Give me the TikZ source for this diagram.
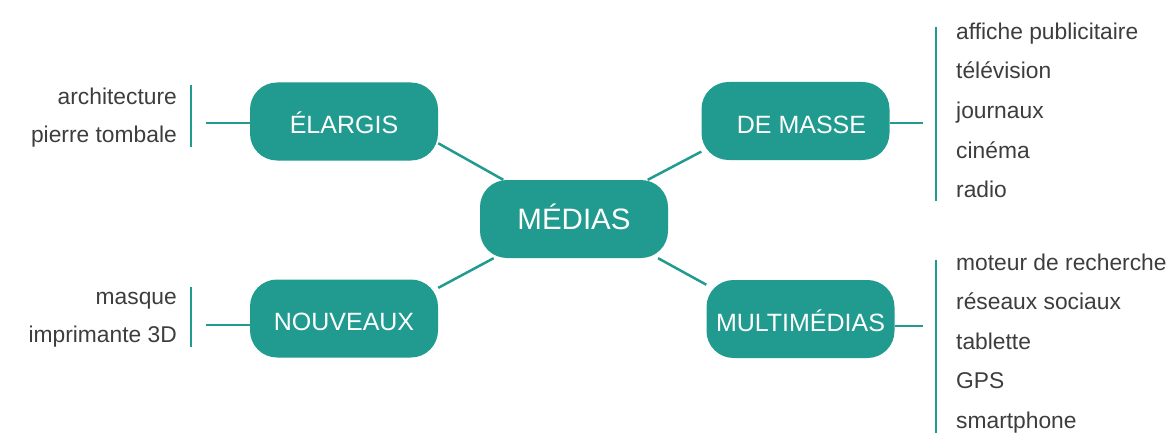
\documentclass[tikz,border=0pt]{standalone}
\usepackage{fontspec}
\setmainfont{Liberation Sans}
\usetikzlibrary{calc,backgrounds}
\definecolor{mediateal}{HTML}{219B8F}
\definecolor{leafgray}{HTML}{3D3D3D}
\tikzset{
  branch/.style={fill=mediateal, text=white, rounded corners=27pt,
    minimum width=188pt, minimum height=78pt, inner sep=0pt,
    text height=24pt, text depth=0pt,
    font={\fontsize{25pt}{30pt}\selectfont}},
  hub/.style={branch, text height=21pt,
    font={\fontsize{29.5pt}{35pt}\selectfont}},
  leaf/.style={text=leafgray, inner sep=0pt,
    font={\fontsize{22.8pt}{27pt}\selectfont}},
  link/.style={draw=mediateal, line width=2.5pt}}

\begin{document}
\begin{tikzpicture}[x=1pt,y=-1pt]
\useasboundingbox (0,0) rectangle (1172,433);
\node[hub] (medias) at (574,219) {MÉDIAS};
\node[branch] (elargis) at (344,121.5) {ÉLARGIS};
\node[branch] (masse) at (795.5,121) {\hspace*{12pt}DE MASSE};
\node[branch] (nouveaux) at (344,318.5) {NOUVEAUX};
\node[branch] (multi) at (800.5,319) {MULTIMÉDIAS};
\begin{scope}[on background layer]
\draw[link] (medias.151) -- (elargis.-13);
\draw[link] (medias.28) -- (masse.-162);
\draw[link] (medias.-154) -- (nouveaux.18);
\draw[link] (medias.-25) -- (multi.160);
\end{scope}
\foreach \txt [count=\i] in {architecture, pierre tombale}
  \node[leaf, anchor=base east] (elargis\i) at (177,{66+38.3*\i}) {\txt};
\foreach \txt [count=\i] in {masque, imprimante 3D}
  \node[leaf, anchor=base east] (nouveaux\i) at (177,{266+38.3*\i}) {\txt};
\foreach \txt [count=\i] in {affiche publicitaire, télévision, journaux, cinéma, radio}
  \node[leaf, anchor=base west] (masse\i) at (956,{39.5*\i}) {\txt};
\foreach \txt [count=\i] in {moteur de recherche, réseaux sociaux, tablette, GPS, smartphone}
  \node[leaf, anchor=base west] (multi\i) at (956,{230.5+39.5*\i}) {\txt};
\coordinate (elargisend) at (206,123);
\coordinate (nouveauxend) at (206,325);
\coordinate (masseend) at (923,123);
\coordinate (multiend) at (923,326);
\draw[link] (elargis.west |- elargisend) -- (elargisend);
\draw[link] (nouveaux.west |- nouveauxend) -- (nouveauxend);
\draw[link] (masse.east |- masseend) -- (masseend);
\draw[link] (multi.east |- multiend) -- (multiend);
\draw[link] (191,85) -- (191,147);
\draw[link] (191,287) -- (191,347);
\draw[link] (936,27) -- (936,201);
\draw[link] (936,260) -- (936,433);
\end{tikzpicture}
\end{document}
